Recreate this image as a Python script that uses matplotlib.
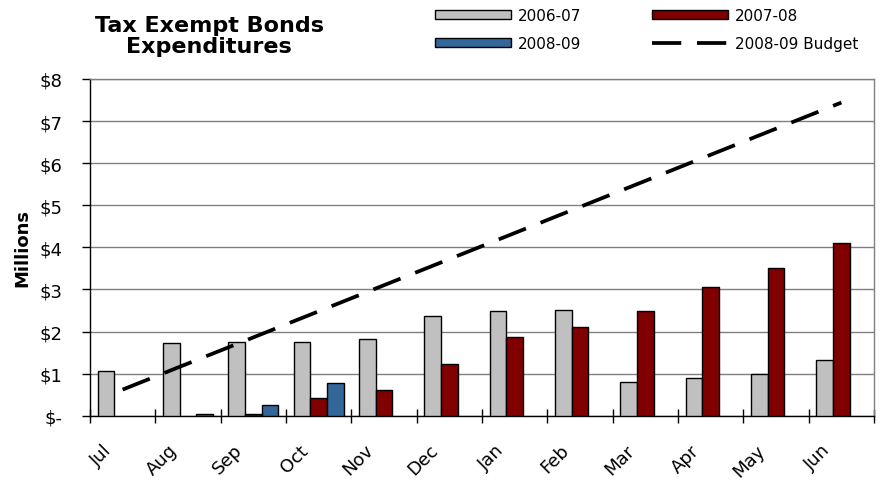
import numpy as np
import matplotlib
matplotlib.use("Agg")
import matplotlib.pyplot as plt
import matplotlib.transforms as mtransforms
from matplotlib.patches import Patch
from matplotlib.lines import Line2D

plt.rcParams['font.family'] = ['DejaVu Sans']

# Data (millions of dollars)
months = ["Jul", "Aug", "Sep", "Oct", "Nov", "Dec", "Jan", "Feb", "Mar", "Apr", "May", "Jun"]
fy0607 = [1.05, 1.72, 1.76, 1.76, 1.82, 2.38, 2.48, 2.52, 0.81, 0.90, 1.00, 1.33]
fy0708 = [np.nan, np.nan, 0.04, 0.43, 0.62, 1.24, 1.86, 2.10, 2.48, 3.05, 3.52, 4.10]
fy0809 = [np.nan, 0.05, 0.25, 0.77, np.nan, np.nan, np.nan, np.nan, np.nan, np.nan, np.nan, np.nan]
budget = [0.62, 1.24, 1.86, 2.48, 3.10, 3.72, 4.34, 4.96, 5.58, 6.20, 6.82, 7.44]
yticks = [0, 1, 2, 3, 4, 5, 6, 7, 8]
ytick_labels = ["$-", "$1", "$2", "$3", "$4", "$5", "$6", "$7", "$8"]

#Colours
Gray_Bar = "#C0C0C0"
Red_Bar = "#800000"
Blue_Bar = "#336699"

fig = plt.figure(figsize=(8.82, 4.81), dpi=100)
ax = fig.add_axes([0.102, 0.1337, 0.889, 0.700])

x = np.arange(len(months))
w = 0.255

ax.bar(x - w, fy0607, w, color=Gray_Bar, edgecolor="black", linewidth=1.0, zorder=3)
ax.bar(x, fy0708, w, color=Red_Bar, edgecolor="black", linewidth=1.0, zorder=3)
ax.bar(x + w, fy0809, w, color=Blue_Bar, edgecolor="black", linewidth=1.0, zorder=3)

ax.plot(x, budget, color="black", linewidth=2.7, dashes=(7.8, 4.2),
        dash_capstyle="butt", zorder=4)

ax.set_xlim(-0.5, 11.5)
ax.set_ylim(0, 8)

#Gridlines
ax.set_yticks(yticks)
ax.set_yticklabels(ytick_labels, fontsize=13)
ax.yaxis.grid(True, color="#808080", linewidth=1.0, zorder=0)
ax.tick_params(axis="y", direction="out", length=6, width=1, color="black", pad=14)

#Month labels at centres, tick marks at boundaries
ax.set_xticks(x)
ax.set_xticklabels(months, rotation=45, ha="right", va="top",
                   rotation_mode="anchor", fontsize=13)
ax.tick_params(axis="x", which="major", length=0, pad=18)
offset = mtransforms.ScaledTranslation(-20 / 100, 0, fig.dpi_scale_trans)
for lbl in ax.get_xticklabels():
    lbl.set_transform(lbl.get_transform() + offset)
ax.set_xticks(np.arange(-0.5, 11.6, 1.0), minor=True)
ax.tick_params(axis="x", which="minor", direction="inout", length=10, width=1, color="black")

for side in ["top", "right"]:
    ax.spines[side].set_color("#808080")
    ax.spines[side].set_linewidth(1.0)
for side in ["left", "bottom"]:
    ax.spines[side].set_color("black")
    ax.spines[side].set_linewidth(1.0)

ax.set_ylabel("Millions", fontsize=13, fontweight="bold")
ax.yaxis.set_label_coords(-0.075, 0.5)

fig.text(0.237, 0.966, "Tax Exempt Bonds\nExpenditures", fontsize=16, fontweight="bold",
         ha="center", va="top", linespacing=1.05)

#Legend
handles = [
    Patch(facecolor=Gray_Bar, edgecolor="black", linewidth=1.0),
    Patch(facecolor=Blue_Bar, edgecolor="black", linewidth=1.0),
    Patch(facecolor=Red_Bar, edgecolor="black", linewidth=1.0),
    Line2D([0], [0], color="black", linewidth=2.7, dashes=(7.8, 4.2), dash_capstyle="butt"),
]
labels = ["2006-07", "2008-09", "2007-08", "2008-09 Budget"]
fig.legend(handles, labels, loc="upper left", bbox_to_anchor=(0.487, 0.993),
           ncol=2, frameon=False, fontsize=11, handlelength=5.0, handleheight=0.55,
           handletextpad=0.45, columnspacing=4.6, labelspacing=0.87, borderpad=0.35,
           borderaxespad=0)

fig.savefig("out.png", dpi=100)
